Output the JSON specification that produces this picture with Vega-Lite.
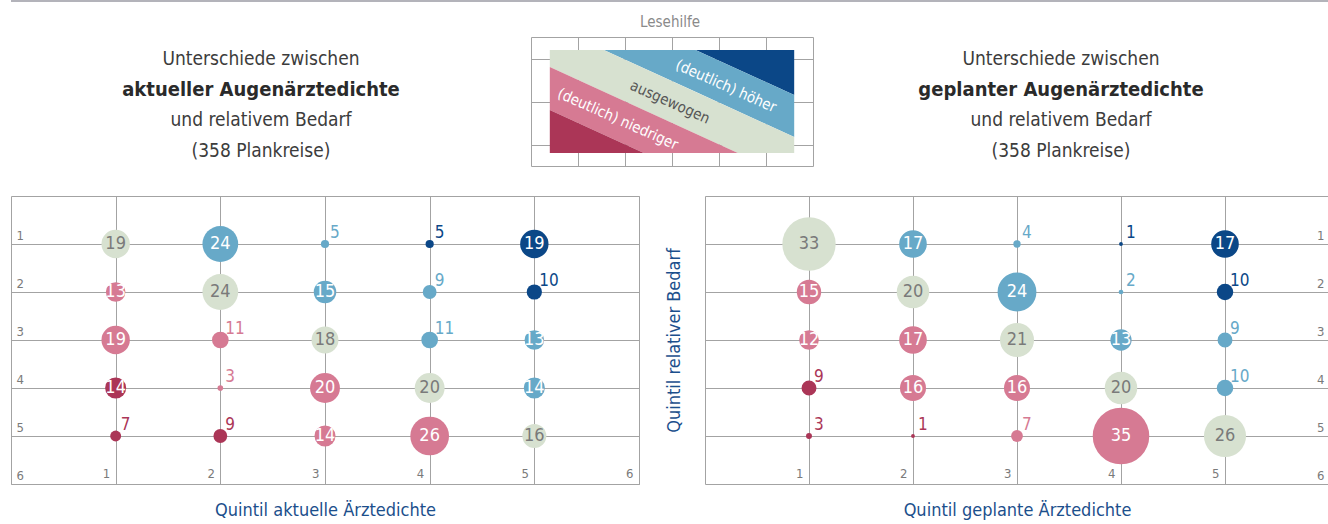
{
  "$schema": "https://vega.github.io/schema/vega-lite/v6.json",
  "padding": {"left": 10, "top": 0, "right": 0, "bottom": 0},
  "config": {
    "view": {"stroke": null},
    "font": "Liberation Sans Narrow, DejaVu Sans Condensed, Open Sans",
    "axis": {
      "domain": false, "ticks": false, "tickSize": 0,
      "gridColor": "#a3a3a3", "gridWidth": 1, "gridOpacity": 1,
      "labelColor": "#7a7a7a", "labelFontSize": 13, "labelFlush": false, "labelOverlap": false,
      "titleColor": "#1c4f8c", "titleFontSize": 18, "titleFontWeight": "normal"
    }
  },
  "datasets": {
    "aktuell": [
      {"x": 1, "y": 1, "n": 19, "k": "ausgewogen"},
      {"x": 2, "y": 1, "n": 24, "k": "höher"},
      {"x": 3, "y": 1, "n": 5, "k": "höher"},
      {"x": 4, "y": 1, "n": 5, "k": "deutlich höher"},
      {"x": 5, "y": 1, "n": 19, "k": "deutlich höher"},
      {"x": 1, "y": 2, "n": 13, "k": "niedriger"},
      {"x": 2, "y": 2, "n": 24, "k": "ausgewogen"},
      {"x": 3, "y": 2, "n": 15, "k": "höher"},
      {"x": 4, "y": 2, "n": 9, "k": "höher"},
      {"x": 5, "y": 2, "n": 10, "k": "deutlich höher"},
      {"x": 1, "y": 3, "n": 19, "k": "niedriger"},
      {"x": 2, "y": 3, "n": 11, "k": "niedriger"},
      {"x": 3, "y": 3, "n": 18, "k": "ausgewogen"},
      {"x": 4, "y": 3, "n": 11, "k": "höher"},
      {"x": 5, "y": 3, "n": 13, "k": "höher"},
      {"x": 1, "y": 4, "n": 14, "k": "deutlich niedriger"},
      {"x": 2, "y": 4, "n": 3, "k": "niedriger"},
      {"x": 3, "y": 4, "n": 20, "k": "niedriger"},
      {"x": 4, "y": 4, "n": 20, "k": "ausgewogen"},
      {"x": 5, "y": 4, "n": 14, "k": "höher"},
      {"x": 1, "y": 5, "n": 7, "k": "deutlich niedriger"},
      {"x": 2, "y": 5, "n": 9, "k": "deutlich niedriger"},
      {"x": 3, "y": 5, "n": 14, "k": "niedriger"},
      {"x": 4, "y": 5, "n": 26, "k": "niedriger"},
      {"x": 5, "y": 5, "n": 16, "k": "ausgewogen"}
    ],
    "geplant": [
      {"x": 1, "y": 1, "n": 33, "k": "ausgewogen"},
      {"x": 2, "y": 1, "n": 17, "k": "höher"},
      {"x": 3, "y": 1, "n": 4, "k": "höher"},
      {"x": 4, "y": 1, "n": 1, "k": "deutlich höher"},
      {"x": 5, "y": 1, "n": 17, "k": "deutlich höher"},
      {"x": 1, "y": 2, "n": 15, "k": "niedriger"},
      {"x": 2, "y": 2, "n": 20, "k": "ausgewogen"},
      {"x": 3, "y": 2, "n": 24, "k": "höher"},
      {"x": 4, "y": 2, "n": 2, "k": "höher"},
      {"x": 5, "y": 2, "n": 10, "k": "deutlich höher"},
      {"x": 1, "y": 3, "n": 12, "k": "niedriger"},
      {"x": 2, "y": 3, "n": 17, "k": "niedriger"},
      {"x": 3, "y": 3, "n": 21, "k": "ausgewogen"},
      {"x": 4, "y": 3, "n": 13, "k": "höher"},
      {"x": 5, "y": 3, "n": 9, "k": "höher"},
      {"x": 1, "y": 4, "n": 9, "k": "deutlich niedriger"},
      {"x": 2, "y": 4, "n": 16, "k": "niedriger"},
      {"x": 3, "y": 4, "n": 16, "k": "niedriger"},
      {"x": 4, "y": 4, "n": 20, "k": "ausgewogen"},
      {"x": 5, "y": 4, "n": 10, "k": "höher"},
      {"x": 1, "y": 5, "n": 3, "k": "deutlich niedriger"},
      {"x": 2, "y": 5, "n": 1, "k": "deutlich niedriger"},
      {"x": 3, "y": 5, "n": 7, "k": "niedriger"},
      {"x": 4, "y": 5, "n": 35, "k": "niedriger"},
      {"x": 5, "y": 5, "n": 26, "k": "ausgewogen"}
    ],
    "baender": [
      {"band": "deutlich höher", "lx": 3.5, "ly": 0.6, "ly2": 0.6},
      {"band": "deutlich höher", "lx": 5.6, "ly": 0.6, "ly2": 2.7},
      {"band": "höher", "lx": 1.55, "ly": 0.6, "ly2": 0.6},
      {"band": "höher", "lx": 3.5, "ly": 0.6, "ly2": 2.55},
      {"band": "höher", "lx": 5.6, "ly": 2.7, "ly2": 4.65},
      {"band": "ausgewogen", "lx": 0.4, "ly": 0.6, "ly2": 1.4},
      {"band": "ausgewogen", "lx": 1.55, "ly": 0.6, "ly2": 2.55},
      {"band": "ausgewogen", "lx": 4.4, "ly": 3.45, "ly2": 5.4},
      {"band": "ausgewogen", "lx": 5.6, "ly": 4.65, "ly2": 5.4},
      {"band": "niedriger", "lx": 0.4, "ly": 1.4, "ly2": 3.4},
      {"band": "niedriger", "lx": 2.4, "ly": 3.4, "ly2": 5.4},
      {"band": "niedriger", "lx": 4.4, "ly": 5.4, "ly2": 5.4},
      {"band": "deutlich niedriger", "lx": 0.4, "ly": 3.4, "ly2": 5.4},
      {"band": "deutlich niedriger", "lx": 2.4, "ly": 5.4, "ly2": 5.4}
    ],
    "bandtexte": [
      {"label": "(deutlich) höher", "lx": 4.15, "ly": 2.28},
      {"label": "ausgewogen", "lx": 2.96, "ly": 3.02},
      {"label": "(deutlich) niedriger", "lx": 1.85, "ly": 3.81}
    ],
    "titelL": [
      {"line": 1, "text": "Unterschiede zwischen"},
      {"line": 2, "text": "aktueller Augenärztedichte"},
      {"line": 3, "text": "und relativem Bedarf"},
      {"line": 4, "text": "(358 Plankreise)"}
    ],
    "titelR": [
      {"line": 1, "text": "Unterschiede zwischen"},
      {"line": 2, "text": "geplanter Augenärztedichte"},
      {"line": 3, "text": "und relativem Bedarf"},
      {"line": 4, "text": "(358 Plankreise)"}
    ]
  },
  "spacing": 6,
  "vconcat": [
    {
      "width": 1318, "height": 26,
      "layer": [
        {
          "data": {"values": [{"v": 1}]},
          "mark": {"type": "rule", "color": "#b3b3ba", "strokeWidth": 2},
          "encoding": {"y": {"field": "v", "type": "quantitative", "scale": {"domain": [0, 1]}, "axis": null}}
        },
        {
          "data": {"values": [{"v": 0, "label": "Lesehilfe"}]},
          "mark": {"type": "text", "fontSize": 15, "color": "#8a8a8a", "baseline": "alphabetic", "align": "center"},
          "encoding": {"y": {"field": "v", "type": "quantitative"}, "text": {"field": "label"}}
        }
      ]
    },
    {
      "hconcat": [
        {
          "width": 500, "height": 152,
          "data": {"name": "titelL"},
          "encoding": {
            "y": {"field": "line", "type": "ordinal", "scale": {"type": "point", "domain": [1, 2, 3, 4], "padding": 1.1207, "align": 0.369}, "axis": null},
            "text": {"field": "text"}
          },
          "layer": [
            {"transform": [{"filter": "datum.line != 2"}], "mark": {"type": "text", "fontSize": 19, "color": "#3c3c3c", "baseline": "middle"}},
            {"transform": [{"filter": "datum.line == 2"}], "mark": {"type": "text", "fontSize": 20, "fontWeight": "bold", "color": "#2a2a2a", "baseline": "middle"}}
          ]
        },
        {
          "width": 282, "height": 129,
          "view": {"stroke": "#a3a3a3"},
          "layer": [
            {
              "data": {"name": "baender"},
              "mark": {"type": "area", "opacity": 1, "interpolate": "linear"},
              "encoding": {
                "x": {"field": "lx", "type": "quantitative", "scale": {"domain": [0, 6]}, "axis": {"values": [1, 2, 3, 4, 5], "grid": true, "labels": false, "title": null}},
                "y": {"field": "ly", "type": "quantitative", "scale": {"domain": [0, 6], "reverse": true}, "axis": {"values": [1, 2, 3, 4, 5], "grid": true, "labels": false, "title": null}},
                "y2": {"field": "ly2"},
                "color": {"field": "band", "type": "nominal", "scale": {"domain": ["deutlich höher", "höher", "ausgewogen", "niedriger", "deutlich niedriger"], "range": ["#0b4787", "#67a9c8", "#d7e1d0", "#d67a93", "#ab3657"]}, "legend": null}
              }
            },
            {
              "data": {"name": "bandtexte"},
              "mark": {"type": "text", "angle": 24, "fontSize": 15, "align": "center", "baseline": "middle"},
              "encoding": {
                "x": {"field": "lx", "type": "quantitative"},
                "y": {"field": "ly", "type": "quantitative"},
                "text": {"field": "label"},
                "color": {"condition": {"test": "datum.label == 'ausgewogen'", "value": "#555555"}, "value": "white"}
              }
            }
          ]
        },
        {
          "width": 456, "height": 152,
          "data": {"name": "titelR"},
          "encoding": {
            "y": {"field": "line", "type": "ordinal", "scale": {"type": "point", "domain": [1, 2, 3, 4], "padding": 1.1207, "align": 0.369}, "axis": null},
            "text": {"field": "text"}
          },
          "layer": [
            {"transform": [{"filter": "datum.line != 2"}], "mark": {"type": "text", "fontSize": 19, "color": "#3c3c3c", "baseline": "middle"}},
            {"transform": [{"filter": "datum.line == 2"}], "mark": {"type": "text", "fontSize": 20, "fontWeight": "bold", "color": "#2a2a2a", "baseline": "middle"}}
          ]
        }
      ],
      "spacing": 20,
      "bounds": "flush"
    },
    {
      "hconcat": [
        {
          "width": 628, "height": 288,
          "view": {"stroke": "#a3a3a3"},
          "data": {"name": "aktuell"},
          "encoding": {
            "x": {"field": "x", "type": "quantitative", "scale": {"domain": [0, 6]}, "axis": {"values": [1, 2, 3, 4, 5, 6], "grid": true, "labelAlign": "right", "labelBaseline": "alphabetic", "labelPadding": -7, "labelOffset": -6, "title": "Quintil aktuelle Ärztedichte", "titlePadding": 17}},
            "y": {"field": "y", "type": "quantitative", "scale": {"domain": [0, 6], "reverse": true}, "axis": {"values": [1, 2, 3, 4, 5, 6], "grid": true, "labelAlign": "left", "labelBaseline": "alphabetic", "labelPadding": -5, "labelOffset": -5, "title": null}}
          },
          "layer": [
            {
              "mark": {"type": "circle", "opacity": 1},
              "encoding": {
                "size": {"field": "n", "type": "quantitative", "scale": {"type": "pow", "exponent": 2, "domain": [0, 26], "range": [12, 1500]}, "legend": null},
                "color": {"field": "k", "type": "nominal", "scale": {"domain": ["deutlich höher", "höher", "ausgewogen", "niedriger", "deutlich niedriger"], "range": ["#0b4787", "#67a9c8", "#d7e1d0", "#d67a93", "#ab3657"]}, "legend": null}
              }
            },
            {
              "transform": [{"filter": "datum.n >= 12"}],
              "mark": {"type": "text", "fontSize": 18, "baseline": "middle", "align": "center"},
              "encoding": {
                "text": {"field": "n"},
                "color": {"condition": {"test": "datum.k == 'ausgewogen'", "value": "#7a7a7a"}, "value": "white"}
              }
            },
            {
              "transform": [{"filter": "datum.n < 12"}],
              "mark": {"type": "text", "fontSize": 17, "align": "left", "baseline": "alphabetic", "dx": 5, "dy": -6},
              "encoding": {
                "text": {"field": "n"},
                "color": {"field": "k", "type": "nominal", "scale": {"domain": ["deutlich höher", "höher", "ausgewogen", "niedriger", "deutlich niedriger"], "range": ["#0b4787", "#67a9c8", "#d7e1d0", "#d67a93", "#ab3657"]}, "legend": null}
              }
            }
          ]
        },
        {
          "width": 624, "height": 288,
          "data": {"name": "geplant"},
          "encoding": {
            "x": {"field": "x", "type": "quantitative", "scale": {"domain": [0, 6]}, "axis": {"values": [0, 1, 2, 3, 4, 5, 6], "grid": true, "gridOpacity": {"condition": {"test": "datum.value == 6", "value": 0}, "value": 1}, "labelExpr": "datum.value == 0 || datum.value == 6 ? '' : datum.label", "labelAlign": "right", "labelBaseline": "alphabetic", "labelPadding": -7, "labelOffset": -6, "title": "Quintil geplante Ärztedichte", "titlePadding": 17}}
          },
          "layer": [
            {
              "mark": {"type": "circle", "opacity": 1},
              "encoding": {
                "y": {"field": "y", "type": "quantitative", "scale": {"domain": [0, 6], "reverse": true}, "axis": {"orient": "left", "values": [0, 1, 2, 3, 4, 5, 6], "grid": true, "labels": false, "title": "Quintil relativer Bedarf", "titlePadding": 22}},
                "size": {"field": "n", "type": "quantitative", "scale": {"type": "pow", "exponent": 2, "domain": [0, 35], "range": [12, 3200]}, "legend": null},
                "color": {"field": "k", "type": "nominal", "scale": {"domain": ["deutlich höher", "höher", "ausgewogen", "niedriger", "deutlich niedriger"], "range": ["#0b4787", "#67a9c8", "#d7e1d0", "#d67a93", "#ab3657"]}, "legend": null}
              }
            },
            {
              "transform": [{"filter": "datum.n >= 12"}],
              "mark": {"type": "text", "fontSize": 18, "baseline": "middle", "align": "center"},
              "encoding": {
                "y": {"field": "y", "type": "quantitative", "axis": null},
                "text": {"field": "n"},
                "color": {"condition": {"test": "datum.k == 'ausgewogen'", "value": "#7a7a7a"}, "value": "white"}
              }
            },
            {
              "transform": [{"filter": "datum.n < 12"}],
              "mark": {"type": "text", "fontSize": 17, "align": "left", "baseline": "alphabetic", "dx": 5, "dy": -6},
              "encoding": {
                "y": {"field": "y", "type": "quantitative", "axis": {"orient": "right", "values": [1, 2, 3, 4, 5, 6], "grid": false, "labelAlign": "right", "labelBaseline": "alphabetic", "labelPadding": -5, "labelOffset": -5, "title": null}},
                "text": {"field": "n"},
                "color": {"field": "k", "type": "nominal", "scale": {"domain": ["deutlich höher", "höher", "ausgewogen", "niedriger", "deutlich niedriger"], "range": ["#0b4787", "#67a9c8", "#d7e1d0", "#d67a93", "#ab3657"]}, "legend": null}
              }
            }
          ],
          "resolve": {"axis": {"y": "independent"}}
        }
      ],
      "spacing": 66,
      "bounds": "flush",
      "resolve": {"scale": {"size": "independent"}}
    }
  ]
}
